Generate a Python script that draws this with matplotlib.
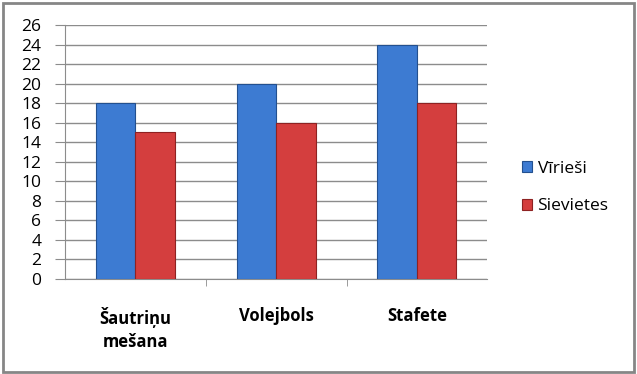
import matplotlib.pyplot as plt
import numpy as np
from matplotlib.patches import Rectangle

categories = ['Šautriņu\nmešana', 'Volejbols', 'Stafete']
virieshi = [18, 20, 24]
sievietes = [15, 16, 18]
yticks = list(range(0, 27, 2))

plt.rcParams['font.family'] = ['Open Sans', 'DejaVu Sans']

fig = plt.figure(figsize=(6.37, 3.74), dpi=100)
# outer chart border
fig.patches.append(Rectangle((0.004, 0.006), 0.991, 0.987, transform=fig.transFigure,
                             fill=False, edgecolor='#868686', linewidth=2))

ax = fig.add_axes([0.102, 0.254, 0.663, 0.679])
x = np.arange(len(categories))
w = 0.28
ax.bar(x - w / 2, virieshi, w, color='#3D7BD2', edgecolor='#23508F', linewidth=0.8,
       label='Vīrieši', zorder=3)
ax.bar(x + w / 2, sievietes, w, color='#D43E3E', edgecolor='#8E2222', linewidth=0.8,
       label='Sievietes', zorder=3)

ax.set_xlim(-0.5, 2.5)
ax.set_ylim(0, 26)
ax.set_yticks(yticks)
ax.set_yticklabels([str(t) for t in yticks], fontsize=12.5)
ax.yaxis.grid(True, color='#8C8C8C', linewidth=1)
ax.tick_params(axis='y', length=7, color='#8C8C8C', pad=10)

ax.set_xticks(x)
ax.set_xticklabels(categories, fontsize=12, fontweight='bold', va='top',
                   linespacing=1.35)
ax.set_xticks([0.5, 1.5], minor=True)
ax.tick_params(axis='x', which='major', length=0, pad=20)
ax.tick_params(axis='x', which='minor', length=5, color='#8C8C8C')

for s in ['top', 'right']:
    ax.spines[s].set_visible(False)
ax.spines['left'].set_color('#8C8C8C')
ax.spines['bottom'].set_color('#8C8C8C')

ax.legend(loc='center left', bbox_to_anchor=(1.045, 0.36), frameon=False,
          fontsize=12.5, handlelength=0.6, handleheight=0.6, labelspacing=1.25,
          handletextpad=0.3)

fig.savefig('out.png', dpi=100)
